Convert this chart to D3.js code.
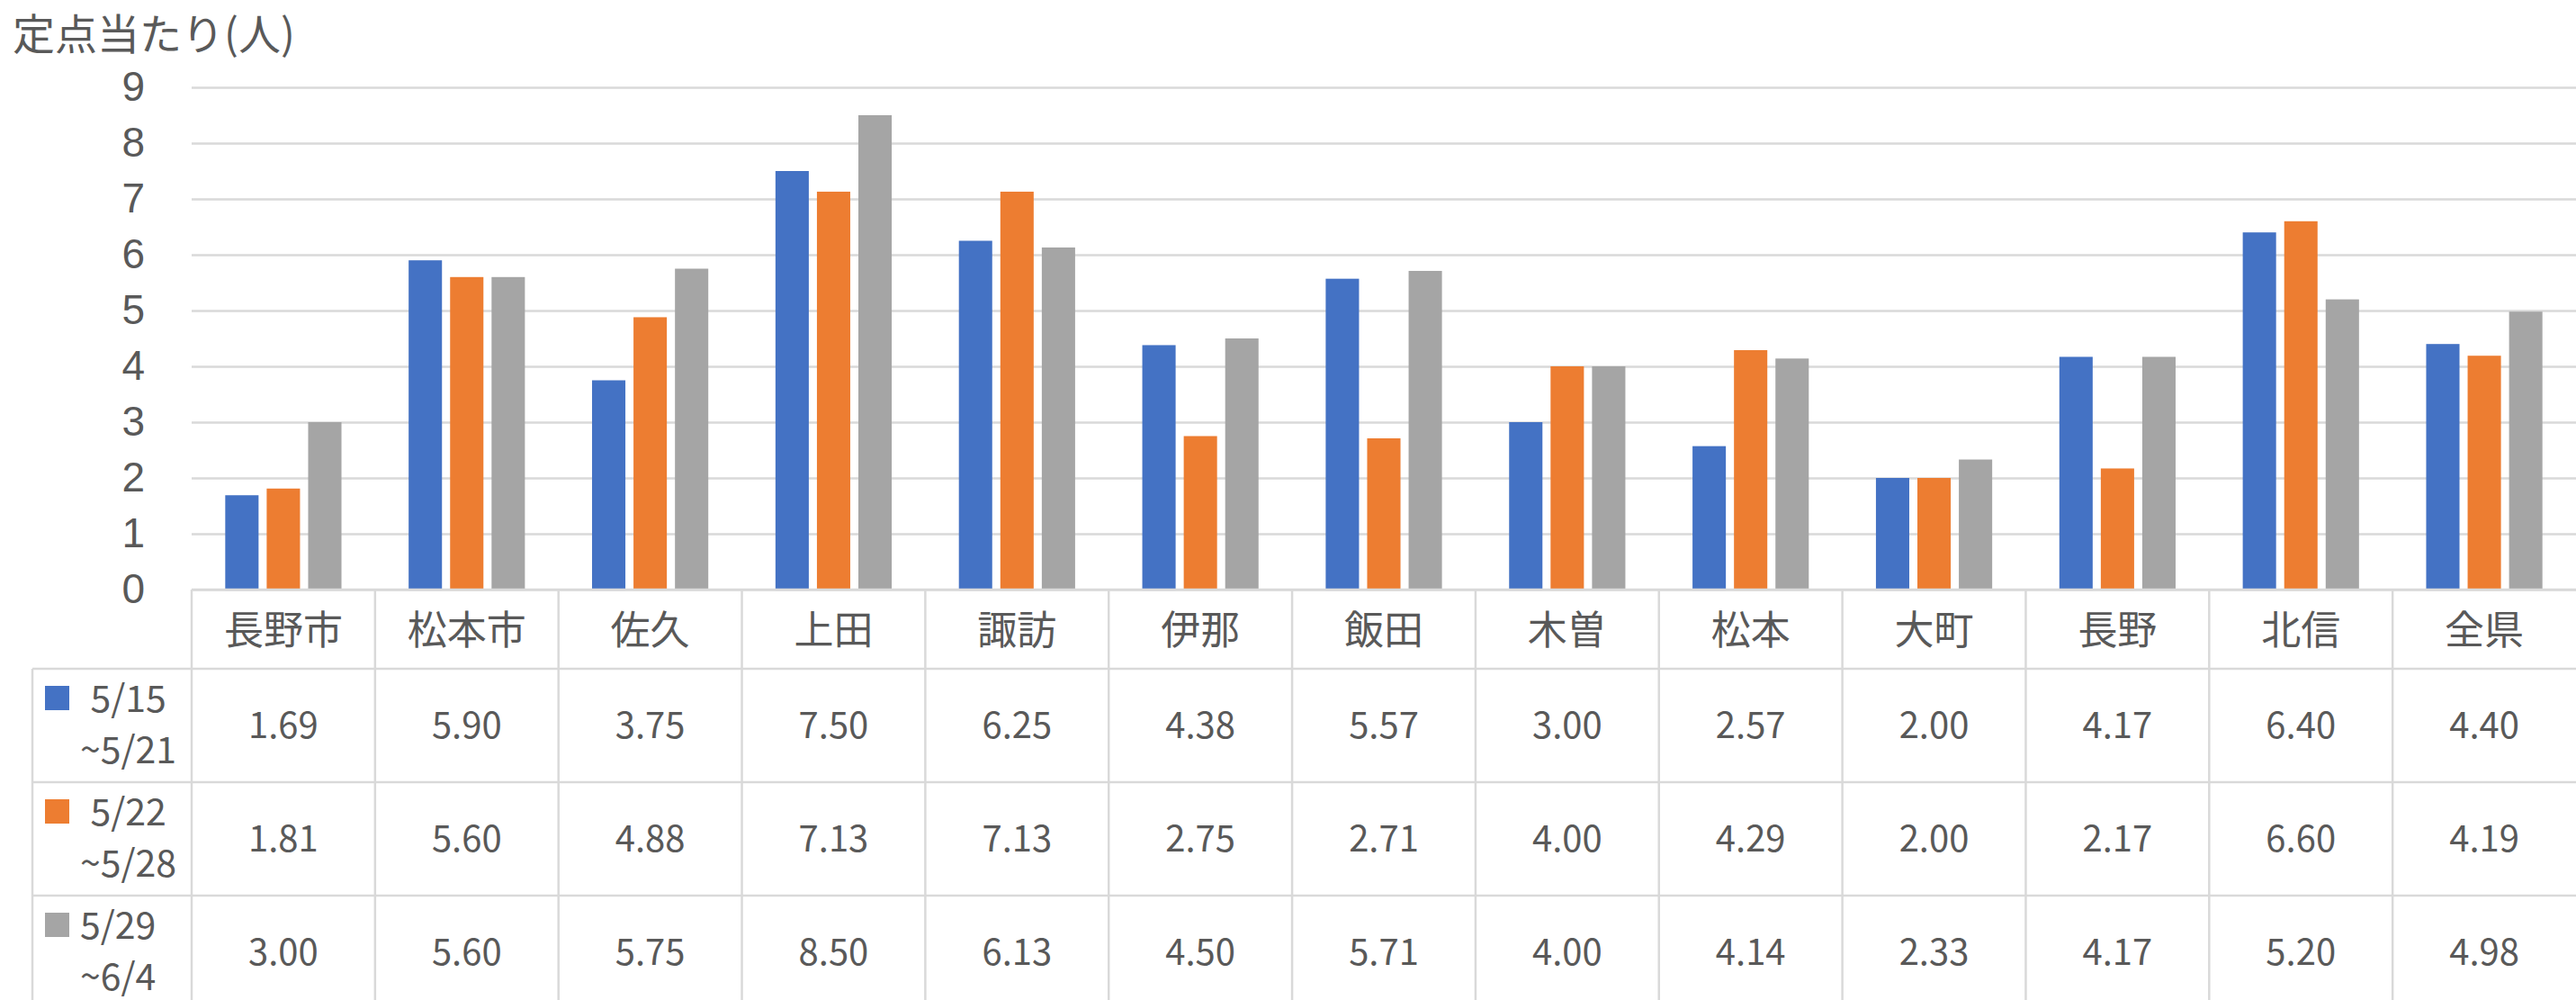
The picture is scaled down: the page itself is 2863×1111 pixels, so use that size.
<!DOCTYPE html>
<html>
<head>
<meta charset="utf-8">
<script src="https://cdn.jsdelivr.net/npm/d3@7"></script>
<style>
  body { margin: 0; background: #fff; }
  text { font-family: "Noto Sans CJK JP", "Noto Sans", sans-serif; fill: #595959; }
</style>
</head>
<body>
<svg id="chart" width="2863" height="1111"></svg>
<script>
// data
const categories = ["長野市", "松本市", "佐久", "上田", "諏訪", "伊那", "飯田", "木曽", "松本", "大町", "長野", "北信", "全県"]
const week1 = [1.69, 5.90, 3.75, 7.50, 6.25, 4.38, 5.57, 3.00, 2.57, 2.00, 4.17, 6.40, 4.40]
const week2 = [1.81, 5.60, 4.88, 7.13, 7.13, 2.75, 2.71, 4.00, 4.29, 2.00, 2.17, 6.60, 4.19]
const week3 = [3.00, 5.60, 5.75, 8.50, 6.13, 4.50, 5.71, 4.00, 4.14, 2.33, 4.17, 5.20, 4.98]
const seriesLabels = [["5/15", "~5/21"], ["5/22", "~5/28"], ["5/29", "~6/4"]]
const seriesColors = ["#4472C4", "#ED7D31", "#A5A5A5"]
const yTicks = [0, 1, 2, 3, 4, 5, 6, 7, 8, 9]
const yTitle = "定点当たり(人)"

const series = [week1, week2, week3]

const W = 2863, H = 1111
const plotLeft = 213, plotRight = W
const plotTop = 97, plotBottom = 655
const tableLeft = 36
const headerBottom = 743
const rowH = 126
const gridColor = "#D9D9D9"

const svg = d3.select("#chart")

let x = d3.scaleBand()
    .domain(categories)
    .range([plotLeft, plotRight])
    .paddingInner(0)
    .paddingOuter(0)

let xs = d3.scaleBand()
    .domain([0, 1, 2])
    .range([0, x.bandwidth()])
    .paddingInner(0.196)
    .paddingOuter(0.81)

let y = d3.scaleLinear()
    .domain([0, 9])
    .range([plotBottom, plotTop])

// title
svg.append("text")
    .attr("x", 14)
    .attr("y", 55)
    .attr("font-size", 47)
    .text(yTitle)

// gridlines + y labels
let yAxis = svg.append("g")
    .attr("transform", `translate(${plotLeft},0)`)
    .call(d3.axisLeft(y).tickValues(yTicks).tickSize(-(plotRight - plotLeft)).tickPadding(52).tickFormat(d3.format("d")))
yAxis.select(".domain").remove()
yAxis.selectAll(".tick line").attr("stroke", gridColor).attr("stroke-width", 2.5)
yAxis.selectAll(".tick text")
    .attr("font-size", 46)
    .attr("fill", "#595959")
    .style("font-family", "'Liberation Sans', sans-serif")

// bars
series.forEach((vals, si) => {
    svg.append("g")
        .selectAll("rect")
        .data(vals)
        .join("rect")
        .attr("x", (d, i) => x(categories[i]) + xs(si))
        .attr("width", xs.bandwidth())
        .attr("y", d => y(d))
        .attr("height", d => y(0) - y(d))
        .attr("fill", seriesColors[si])
})

// data table lines
let table = svg.append("g")
let tableBottom = headerBottom + rowH * 3

// horizontal lines
table.append("line")
    .attr("x1", plotLeft).attr("x2", plotRight)
    .attr("y1", plotBottom).attr("y2", plotBottom)
    .attr("stroke", gridColor).attr("stroke-width", 2.5)
d3.range(3).forEach(r => {
    table.append("line")
        .attr("x1", tableLeft).attr("x2", plotRight)
        .attr("y1", headerBottom + r * rowH).attr("y2", headerBottom + r * rowH)
        .attr("stroke", gridColor).attr("stroke-width", 2.5)
})

// vertical lines
table.append("line")
    .attr("x1", tableLeft).attr("x2", tableLeft)
    .attr("y1", headerBottom).attr("y2", tableBottom)
    .attr("stroke", gridColor).attr("stroke-width", 2.5)
table.selectAll("line.col")
    .data(categories)
    .join("line")
    .attr("class", "col")
    .attr("x1", d => x(d)).attr("x2", d => x(d))
    .attr("y1", plotBottom).attr("y2", tableBottom)
    .attr("stroke", gridColor).attr("stroke-width", 2.5)

// category header
table.selectAll("text.cat")
    .data(categories)
    .join("text")
    .attr("class", "cat")
    .attr("x", d => x(d) + x.bandwidth() / 2)
    .attr("y", (plotBottom + headerBottom) / 2)
    .attr("dy", "0.38em")
    .attr("text-anchor", "middle")
    .attr("font-size", 44)
    .text(d => d)

// values
series.forEach((vals, si) => {
    let rowTop = headerBottom + si * rowH
    table.append("g")
        .selectAll("text")
        .data(vals)
        .join("text")
        .attr("x", (d, i) => x(categories[i]) + x.bandwidth() / 2)
        .attr("y", rowTop + rowH / 2)
        .attr("dy", "0.36em")
        .attr("text-anchor", "middle")
        .attr("font-size", 40)
        .text(d => d.toFixed(2))

    // legend key
    table.append("rect")
        .attr("x", 50)
        .attr("y", rowTop + 19)
        .attr("width", 27)
        .attr("height", 27)
        .attr("fill", seriesColors[si])

    let lines = seriesLabels[si].map((s, li) => table.append("text")
        .attr("x", 89)
        .attr("y", rowTop + 48 + li * 57)
        .attr("font-size", 41)
        .text(s))
    let maxW = d3.max(lines, t => t.node().getComputedTextLength())
    lines.forEach(t => {
        t.attr("text-anchor", "middle").attr("x", 89 + maxW / 2)
    })
})
</script>
</body>
</html>
